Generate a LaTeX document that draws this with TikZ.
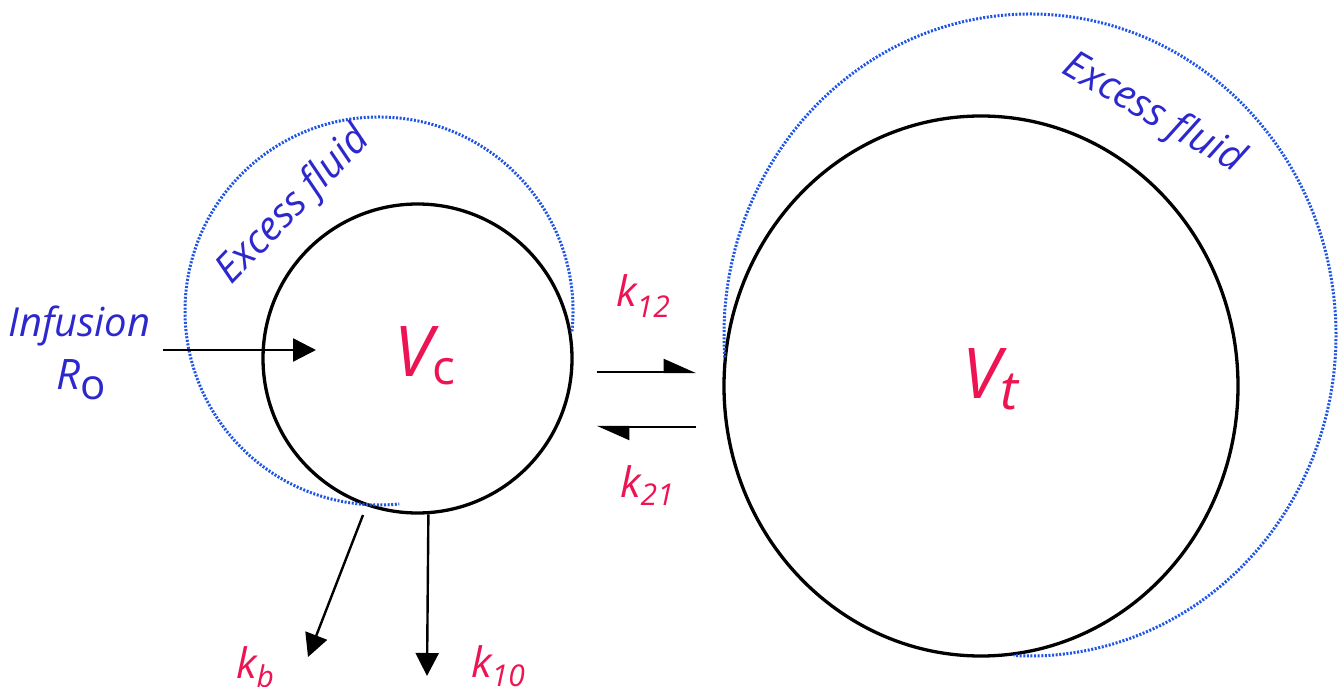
\documentclass[tikz,border=0pt]{standalone}
\usepackage{fontspec}
\setmainfont{Open Sans}
\usetikzlibrary{arrows.meta,calc,shapes.geometric}
\definecolor{dotblue}{RGB}{30,85,230}
\definecolor{fluidblue}{RGB}{45,40,205}
\definecolor{ratered}{RGB}{236,20,82}
\newcommand{\lowsub}[3]{\raisebox{#1}{\fontsize{#2}{#2}\selectfont #3}}
\tikzset{
  compart/.style={draw,line width=3.3pt,inner sep=0pt},
  excess/.style={dotblue,line width=3pt,dash pattern=on 2pt off 1.6pt},
  flow/.style={line width=2.4pt,-{Triangle[length=23pt,width=23pt]}},
  exchange/.style={line width=2.4pt,-{Triangle[harpoon,length=30pt,width=26pt]}},
  fluidlabel/.style={fluidblue,inner sep=0pt,font=\fontsize{40}{44}\selectfont\itshape},
  ratelabel/.style={ratered,inner sep=0pt,anchor=base west,
    font=\fontsize{42}{44}\selectfont\itshape},
  vollabel/.style={ratered,inner sep=0pt,anchor=base west,
    font=\fontsize{70}{74}\selectfont\itshape}
}

\begin{document}
\begin{tikzpicture}[x=1pt,y=1pt]
  \useasboundingbox (0,0) rectangle (1344,686);
  \node[compart,circle,minimum size=309pt] (Vc) at (417.5,327.5) {};
  \node[compart,ellipse,minimum width=514pt,minimum height=540pt] (Vt) at (981,300) {};
  \draw[excess] (379,375) ++(-6:194) arc[start angle=-6,end angle=276,radius=194];
  \draw[excess] (1030,351) ++(184:306 and 321)
    arc[start angle=184,end angle=-93,x radius=306,y radius=321];

  \node[fluidlabel,rotate=46] (fluidc) at (294,480) {Excess fluid};
  \node[fluidlabel,rotate=-30] (fluidt) at (1153,572) {Excess fluid};
  \node[fluidlabel,anchor=base west] (infusion) at (8,349) {Infusion};
  \node[fluidlabel,anchor=base west,font=\fontsize{42}{44}\selectfont\itshape] (Ro)
    at (56,296) {R\lowsub{-10pt}{42}{\upshape o}};

  \node[vollabel] (Vclab) at (394,309) {V\lowsub{-8pt}{48}{\upshape c}};
  \node[vollabel] (Vtlab) at (962,287) {V\lowsub{-11pt}{54}{t}};
  \node[ratelabel] (k12) at (616,379) {k\lowsub{-11pt}{30}{12}};
  \node[ratelabel] (k21) at (620,189) {k\lowsub{-9pt}{30}{21}};
  \node[ratelabel] (kb) at (236,8) {k\lowsub{-9pt}{30}{b}};
  \node[ratelabel] (k10) at (471,9) {k\lowsub{-9pt}{30}{10}};

  \coordinate (infstart) at (163,336);
  \coordinate (infend) at (316,336);
  \coordinate (kbstart) at (363,171);
  \coordinate (kbend) at (308,29);
  \coordinate (k10end) at (427,10);
  \draw[flow] (infstart) -- (infend);
  \draw[exchange] ($(Vc.east)+(23,-13.5)$) -- ($(Vt.west)+(-26,14)$);
  \draw[exchange] ($(Vt.west)+(-26,-41)$) -- ($(Vc.east)+(23,-68.5)$);
  \draw[flow] (kbstart) -- (kbend);
  \draw[flow] (Vc.-86.5) -- (k10end);
\end{tikzpicture}
\end{document}
